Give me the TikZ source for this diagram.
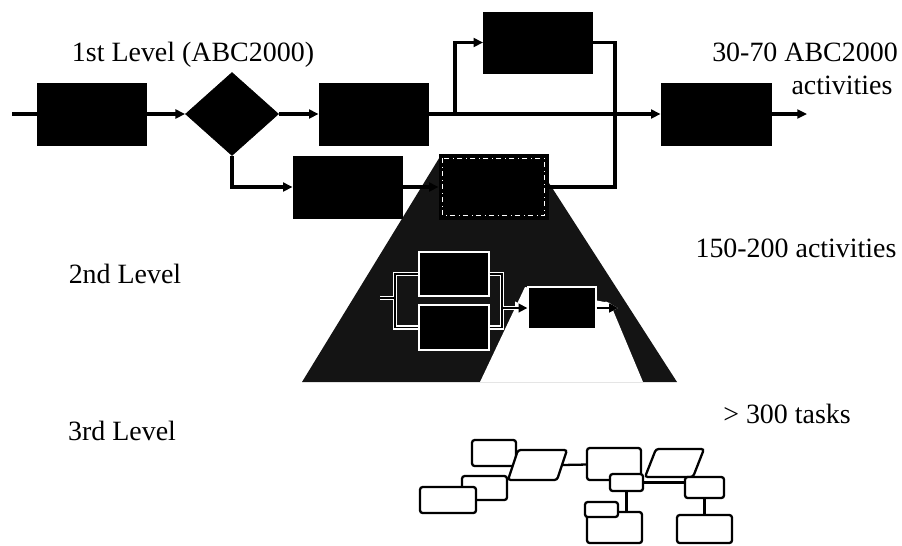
\documentclass[tikz,border=0pt]{standalone}
\usepackage{fontspec}
\setmainfont{Liberation Serif}
\usetikzlibrary{arrows.meta,shapes.geometric}

\tikzset{
  blk/.style={draw,fill=black,inner sep=0,minimum width=2.18cm,minimum height=1.24cm},
  sub/.style={draw=white,fill=black,line width=0.8pt,inner sep=0},
  task/.style={draw,fill=white,line width=1.3pt,rounded corners=1.5pt,inner sep=0},
  tline/.style={line width=1.3pt},
  flow/.style={line width=1.9pt},
  lbl/.style={font=\fontsize{15.9}{19}\selectfont,anchor=base,inner sep=0},
  wline/.style={white,line width=2.8pt},
  kline/.style={black,line width=1pt},
}

\begin{document}
\begin{tikzpicture}[x=0.02cm,y=-0.02cm,>={Triangle[length=5.5pt,width=5pt]}]
  \useasboundingbox (0,0) rectangle (902,545);

  % Labels of the three levels.
  \node[lbl] (lev1) at (193,61) {1st Level (ABC2000)};
  \node[lbl] (n1) at (805,61) {30-70 ABC2000};
  \node[lbl] (n1b) at (842,94) {activities};
  \node[lbl] (lev2) at (125,283) {2nd Level};
  \node[lbl] (n2) at (796,257) {150-200 activities};
  \node[lbl] (lev3) at (122,440) {3rd Level};
  \node[lbl] (n3) at (787,423) {> 300 tasks};

  % Level 2 seen as a projection of one level 1 activity.
  \fill[black!92] (441,155) -- (531,155) -- (677,382) -- (302,382) -- cycle;
  \fill[white] (480,382) -- (525,287) -- (610,303) -- (643,382) -- cycle;

  % Level 1 activities.
  \coordinate (in) at (12,114);
  \node[blk] (a) at (91.5,114) {};
  \node[diamond,draw,fill=black,inner sep=0,minimum width=1.86cm,minimum height=1.66cm]
    (dec) at (232,114) {};
  \node[blk] (b) at (373.5,114) {};
  \node[blk] (c) at (347.5,187) {};
  \node[blk,minimum height=1.3cm] (d) at (493.5,187) {};
  \node[blk,minimum height=1.22cm] (f) at (538,42.5) {};
  \node[blk,minimum width=2.2cm] (e) at (716,114) {};
  \draw[white,dash dot,line width=0.6pt]
    ([xshift=0.08cm,yshift=-0.08cm]d.north west) rectangle
    ([xshift=-0.08cm,yshift=0.08cm]d.south east);
  \coordinate (split) at (455,114);
  \coordinate (join) at (615,114);
  \coordinate (out) at (807,114);

  \draw[flow] (in) -- (a);
  \draw[flow,->] (a) -- (dec);
  \draw[flow,->] (dec) -- (b);
  \draw[flow,->] (dec.south) |- (c);
  \draw[flow,->] (c) -- (d);
  \draw[flow,->] (b) -- (e);
  \draw[flow,->] (split) |- (f);
  \draw[flow] (f.east) -| (join) (d.east) -| (join);
  \draw[flow,->] (e) -- (out);

  % Level 2 activities.
  \node[sub,minimum width=1.4cm,minimum height=0.88cm] (h1) at (454,274) {};
  \node[sub,minimum width=1.4cm,minimum height=0.9cm] (h2) at (454,327.5) {};
  \node[sub,minimum width=1.36cm,minimum height=0.84cm] (g) at (562,308) {};
  \coordinate (l2in) at (380,298);
  \coordinate (lbus) at (395,298);
  \coordinate (rbus) at (502,308);
  \coordinate (l2out) at (618,308);
  \foreach \sty/\tip in {wline/7pt,kline/5pt} {
    \draw[\sty] (l2in) -- (lbus) |- (h1.west) (lbus) |- (h2.west);
    \draw[\sty] (h1.east) -| (rbus) (h2.east) -| (rbus);
    \draw[\sty,-{Triangle[length=\tip,width=\tip]}] (rbus) -- (g.west);
    \draw[\sty,-{Triangle[length=\tip,width=\tip]}] (g.east) -- (l2out);
  }

  % Level 3 tasks.
  \node[task,minimum width=0.88cm,minimum height=0.52cm] (t1) at (494,453) {};
  \draw[task] (518,450) -- (567,450) -- (557,480) -- (508,480) -- cycle;
  \coordinate (p1) at (562,465);
  \node[task,minimum width=0.9cm,minimum height=0.48cm] (t2) at (484.5,488) {};
  \node[task,minimum width=1.12cm,minimum height=0.52cm] (t3) at (448,500) {};
  \node[task,minimum width=1.08cm,minimum height=0.64cm] (t4) at (614,464) {};
  \node[task,minimum width=0.66cm,minimum height=0.34cm] (t5) at (626.5,482.5) {};
  \draw[task] (656,449) -- (704,449) -- (693,477) -- (645,477) -- cycle;
  \node[task,minimum width=0.78cm,minimum height=0.42cm] (t6) at (704.5,487.5) {};
  \node[task,minimum width=1.1cm,minimum height=0.62cm] (t7) at (614.5,527.5) {};
  \node[task,minimum width=0.66cm,minimum height=0.3cm] (t8) at (601.5,509.5) {};
  \node[task,minimum width=1.1cm,minimum height=0.56cm] (t9) at (704.5,529) {};
  \draw[tline] (p1) -- (t4);
  \draw[tline] (t5.east) -- (t5.east -| t6.west);
  \draw[tline] (t5.south) -- (t5.south |- t7.north);
  \draw[tline] (t6) -- (t9);
\end{tikzpicture}
\end{document}
